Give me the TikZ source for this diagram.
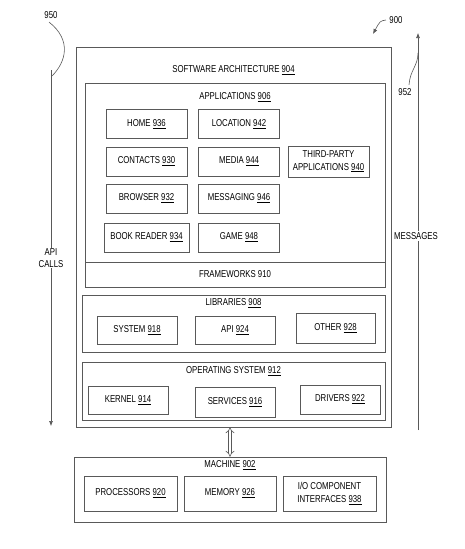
\documentclass[tikz,border=0pt]{standalone}
\usepackage{fontspec}
\setmainfont{Liberation Sans}[FakeStretch=0.78]
\usetikzlibrary{arrows.meta, positioning, calc}
\newcommand{\refnum}[1]{\underline{#1}}

\begin{document}
\begin{tikzpicture}[
    x=1pt, y=-1pt,
    >={Latex[length=5pt, width=4pt]},
    line/.style={draw=black!65, line width=0.6pt},
    box/.style={line, minimum width=81pt, minimum height=29pt, inner sep=1pt,
                font=\fontsize{10}{12.5}\selectfont, align=center},
    frame/.style={line, inner sep=0pt},
    lbl/.style={font=\fontsize{10}{11.5}\selectfont, align=center},
    flow/.style={->, line},
]
\useasboundingbox (0,0) rectangle (465,549);
% === Software architecture frame ===
\node[frame, minimum width=315pt, minimum height=380pt] (arch) at (233.5,237) {};
\node[lbl] (archlbl) at (233.5,70) {SOFTWARE ARCHITECTURE \refnum{904}};
% === Applications ===
\node[frame, minimum width=300pt, minimum height=179pt] (apps) at (235,172.5) {};
\node[lbl] (appslbl) at (235,97) {APPLICATIONS \refnum{906}};
\node[box] (home) at (146.5,124) {HOME \refnum{936}};
\node[box] (location) at (239,124) {LOCATION \refnum{942}};
\node[box] (contacts) at (146.5,161.5) {CONTACTS \refnum{930}};
\node[box] (media) at (239,161.5) {MEDIA \refnum{944}};
\node[box, minimum height=31pt] (thirdparty) at (328.5,161.5) {THIRD-PARTY\\APPLICATIONS \refnum{940}};
\node[box] (browser) at (146.5,198.5) {BROWSER \refnum{932}};
\node[box] (messaging) at (239,198.5) {MESSAGING \refnum{946}};
\node[box, minimum width=85pt] (bookreader) at (146.5,237.5) {BOOK READER \refnum{934}};
\node[box] (game) at (239,237.5) {GAME \refnum{948}};
% === Frameworks ===
\node[frame, lbl, minimum width=300pt, minimum height=25pt] (frameworks) at (235,274.5) {FRAMEWORKS 910};
% === Libraries ===
\node[frame, minimum width=303pt, minimum height=57pt] (libs) at (233.5,323.5) {};
\node[lbl] (libslbl) at (233.5,303) {LIBRARIES \refnum{908}};
\node[box, minimum width=80pt, minimum height=28pt] (system) at (137,330) {SYSTEM \refnum{918}};
\node[box, minimum width=80pt, minimum height=28pt] (api) at (235,330) {API \refnum{924}};
\node[box, minimum width=79pt, minimum height=30pt] (other) at (335.5,328) {OTHER \refnum{928}};
% === Operating system ===
\node[frame, minimum width=303pt, minimum height=58pt] (os) at (233.5,391) {};
\node[lbl] (oslbl) at (233.5,371) {OPERATING SYSTEM \refnum{912}};
\node[box, minimum width=80pt, minimum height=28pt] (kernel) at (128,400) {KERNEL \refnum{914}};
\node[box, minimum width=80pt, minimum height=30pt] (services) at (235,402) {SERVICES \refnum{916}};
\node[box, minimum width=80pt] (drivers) at (340,399.5) {DRIVERS \refnum{922}};
% === Machine ===
\node[frame, minimum width=312pt, minimum height=65pt] (machine) at (230,489.5) {};
\node[lbl] (machinelbl) at (230,465) {MACHINE \refnum{902}};
\node[box, minimum width=93pt, minimum height=35pt] (processors) at (130.5,493.5) {PROCESSORS \refnum{920}};
\node[box, minimum width=92pt, minimum height=35pt] (memory) at (230,493.5) {MEMORY \refnum{926}};
\node[box, minimum width=93pt, minimum height=35pt] (io) at (329.5,493.5) {I/O COMPONENT\\INTERFACES \refnum{938}};
% Hollow double arrow between architecture and machine
\draw[line, double, double distance=2.5pt, {Implies[length=4pt]}-{Implies[length=4pt]}]
    (machine.north |- arch.south) -- (machine.north);
% === API calls / messages ===
\coordinate (callstop) at (51,70);
\coordinate (callsend) at (51,426);
\node[lbl, fill=white, inner sep=1pt] (calls) at (51,258) {API\\CALLS};
\draw[line] (callstop) -- (calls.north);
\draw[flow] (calls.south) -- (callsend);
\coordinate (msgstart) at (418,430);
\coordinate (msgend) at (418,33);
\node[lbl, fill=white, inner sep=1pt] (messages) at (416,236) {MESSAGES};
\draw[line] (msgstart) -- (messages.south -| msgstart);
\draw[flow] (messages.north -| msgstart) -- (msgend);
% === Reference labels ===
\node[lbl] (ref950) at (51,15) {950};
\draw[line] ([xshift=-2pt]ref950.south) .. controls (72,40) and (66,62) .. (52,76);
\node[lbl] (ref900) at (396,20) {900};
\draw[flow] (ref900.west) .. controls (380,21) .. (373,34);
\node[lbl] (ref952) at (405,92) {952};
\draw[line] ([xshift=4pt]ref952.north) .. controls (410,70) and (418,66) .. (418,53);
\end{tikzpicture}
\end{document}
